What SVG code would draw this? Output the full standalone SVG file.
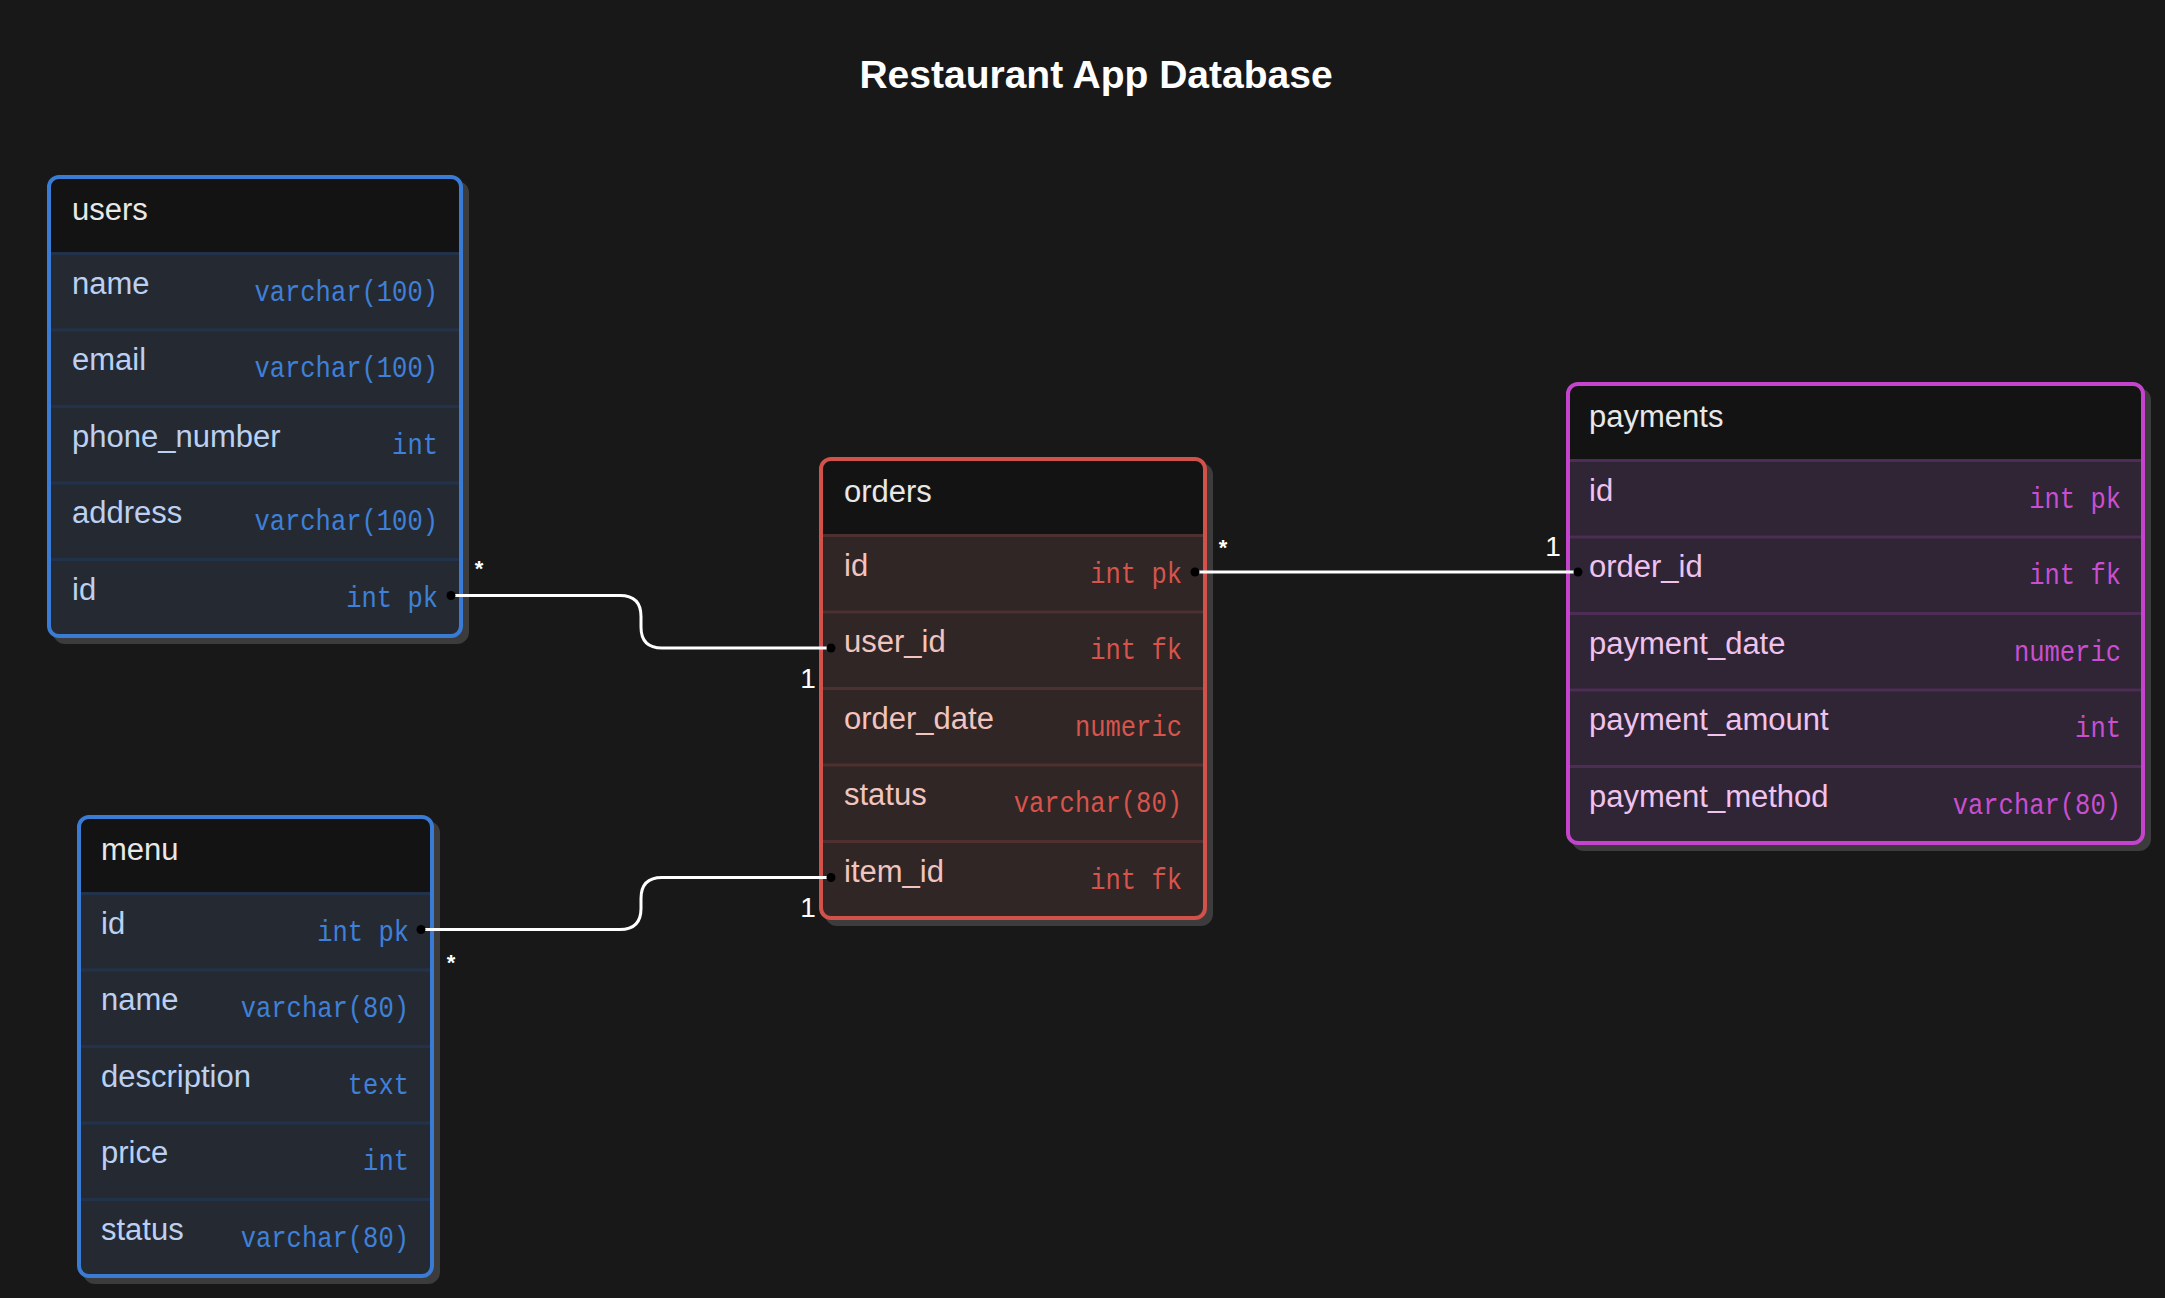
<svg xmlns="http://www.w3.org/2000/svg" width="2165" height="1298" viewBox="0 0 2165 1298">
<style>
.title{font-family:"Liberation Sans",Arial,sans-serif;font-size:39px;font-weight:bold;fill:#ffffff}
.hdr{font-family:"Liberation Sans",Arial,sans-serif;font-size:31px;fill:#e8e8e8}
.lbl{font-family:"Liberation Sans",Arial,sans-serif;font-size:31px}
.typ{font-family:"Liberation Mono","Courier New",monospace;font-size:30px;text-anchor:end}
.shadow{fill:#3c3c3c;stroke:#3c3c3c;stroke-width:4}
.headfill{fill:#131313}
.frame{fill:none;stroke-width:4}
.sep{stroke-width:3}
.blue .body{fill:#252a32}.blue .sep{stroke:#22324a}.blue .frame{stroke:#3a7bd5}.blue .lbl{fill:#bcd0f2}.blue .typ{fill:#3f80d8}
.red .body{fill:#302625}.red .sep{stroke:#4d302f}.red .frame{stroke:#d2514a}.red .lbl{fill:#f1c4bf}.red .typ{fill:#d6544c}
.pink .body{fill:#2f2535}.pink .sep{stroke:#4d2c55}.pink .frame{stroke:#c544cd}.pink .lbl{fill:#efc3ee}.pink .typ{fill:#c94fd0}
.wire{fill:none;stroke:#ffffff;stroke-width:3}
.dot{fill:#000000}
.card{font-family:"Liberation Sans",Arial,sans-serif;fill:#ffffff;text-anchor:middle}
.star{font-size:22px;font-weight:bold}
.one{font-size:28px}
</style>
<rect x="0" y="0" width="2165" height="1298" fill="#181818"/>
<text class="title" x="1096" y="88" text-anchor="middle">Restaurant App Database</text>

<g id="users" class="blue">
  <rect class="shadow" x="55" y="183" width="412" height="459" rx="10"/>
  <rect class="body" x="49" y="177" width="412" height="459" rx="10"/>
  <path class="headfill" d="M49,253.5 V187 Q49,177 59,177 H451 Q461,177 461,187 V253.5 Z"/>
  <line class="sep" x1="49" y1="253.5" x2="461" y2="253.5"/>
  <line class="sep" x1="49" y1="330" x2="461" y2="330"/>
  <line class="sep" x1="49" y1="406.5" x2="461" y2="406.5"/>
  <line class="sep" x1="49" y1="483" x2="461" y2="483"/>
  <line class="sep" x1="49" y1="559.5" x2="461" y2="559.5"/>
  <rect class="frame" x="49" y="177" width="412" height="459" rx="10"/>
  <text class="hdr" x="72" y="220">users</text>
  <text class="lbl" x="72" y="293.5">name</text>
  <text class="typ" x="438" y="300.5" textLength="183.6" lengthAdjust="spacingAndGlyphs">varchar(100)</text>
  <text class="lbl" x="72" y="370">email</text>
  <text class="typ" x="438" y="377" textLength="183.6" lengthAdjust="spacingAndGlyphs">varchar(100)</text>
  <text class="lbl" x="72" y="446.5">phone_number</text>
  <text class="typ" x="438" y="453.5" textLength="45.9" lengthAdjust="spacingAndGlyphs">int</text>
  <text class="lbl" x="72" y="523">address</text>
  <text class="typ" x="438" y="530" textLength="183.6" lengthAdjust="spacingAndGlyphs">varchar(100)</text>
  <text class="lbl" x="72" y="599.5">id</text>
  <text class="typ" x="438" y="606.5" textLength="91.8" lengthAdjust="spacingAndGlyphs">int pk</text>
</g>

<g id="menu" class="blue">
  <rect class="shadow" x="85" y="823" width="353" height="459" rx="10"/>
  <rect class="body" x="79" y="817" width="353" height="459" rx="10"/>
  <path class="headfill" d="M79,893.5 V827 Q79,817 89,817 H422 Q432,817 432,827 V893.5 Z"/>
  <line class="sep" x1="79" y1="893.5" x2="432" y2="893.5"/>
  <line class="sep" x1="79" y1="970" x2="432" y2="970"/>
  <line class="sep" x1="79" y1="1046.5" x2="432" y2="1046.5"/>
  <line class="sep" x1="79" y1="1123" x2="432" y2="1123"/>
  <line class="sep" x1="79" y1="1199.5" x2="432" y2="1199.5"/>
  <rect class="frame" x="79" y="817" width="353" height="459" rx="10"/>
  <text class="hdr" x="101" y="860">menu</text>
  <text class="lbl" x="101" y="933.5">id</text>
  <text class="typ" x="409" y="940.5" textLength="91.8" lengthAdjust="spacingAndGlyphs">int pk</text>
  <text class="lbl" x="101" y="1010">name</text>
  <text class="typ" x="409" y="1017" textLength="168.3" lengthAdjust="spacingAndGlyphs">varchar(80)</text>
  <text class="lbl" x="101" y="1086.5">description</text>
  <text class="typ" x="409" y="1093.5" textLength="61.2" lengthAdjust="spacingAndGlyphs">text</text>
  <text class="lbl" x="101" y="1163">price</text>
  <text class="typ" x="409" y="1170" textLength="45.9" lengthAdjust="spacingAndGlyphs">int</text>
  <text class="lbl" x="101" y="1239.5">status</text>
  <text class="typ" x="409" y="1246.5" textLength="168.3" lengthAdjust="spacingAndGlyphs">varchar(80)</text>
</g>

<g id="orders" class="red">
  <rect class="shadow" x="827" y="465" width="384" height="459" rx="10"/>
  <rect class="body" x="821" y="459" width="384" height="459" rx="10"/>
  <path class="headfill" d="M821,535.5 V469 Q821,459 831,459 H1195 Q1205,459 1205,469 V535.5 Z"/>
  <line class="sep" x1="821" y1="535.5" x2="1205" y2="535.5"/>
  <line class="sep" x1="821" y1="612" x2="1205" y2="612"/>
  <line class="sep" x1="821" y1="688.5" x2="1205" y2="688.5"/>
  <line class="sep" x1="821" y1="765" x2="1205" y2="765"/>
  <line class="sep" x1="821" y1="841.5" x2="1205" y2="841.5"/>
  <rect class="frame" x="821" y="459" width="384" height="459" rx="10"/>
  <text class="hdr" x="844" y="502">orders</text>
  <text class="lbl" x="844" y="575.5">id</text>
  <text class="typ" x="1182" y="582.5" textLength="91.8" lengthAdjust="spacingAndGlyphs">int pk</text>
  <text class="lbl" x="844" y="652">user_id</text>
  <text class="typ" x="1182" y="659" textLength="91.8" lengthAdjust="spacingAndGlyphs">int fk</text>
  <text class="lbl" x="844" y="728.5">order_date</text>
  <text class="typ" x="1182" y="735.5" textLength="107.1" lengthAdjust="spacingAndGlyphs">numeric</text>
  <text class="lbl" x="844" y="805">status</text>
  <text class="typ" x="1182" y="812" textLength="168.3" lengthAdjust="spacingAndGlyphs">varchar(80)</text>
  <text class="lbl" x="844" y="881.5">item_id</text>
  <text class="typ" x="1182" y="888.5" textLength="91.8" lengthAdjust="spacingAndGlyphs">int fk</text>
</g>

<g id="payments" class="pink">
  <rect class="shadow" x="1574" y="390" width="575" height="459" rx="10"/>
  <rect class="body" x="1568" y="384" width="575" height="459" rx="10"/>
  <path class="headfill" d="M1568,460.5 V394 Q1568,384 1578,384 H2133 Q2143,384 2143,394 V460.5 Z"/>
  <line class="sep" x1="1568" y1="460.5" x2="2143" y2="460.5"/>
  <line class="sep" x1="1568" y1="537" x2="2143" y2="537"/>
  <line class="sep" x1="1568" y1="613.5" x2="2143" y2="613.5"/>
  <line class="sep" x1="1568" y1="690" x2="2143" y2="690"/>
  <line class="sep" x1="1568" y1="766.5" x2="2143" y2="766.5"/>
  <rect class="frame" x="1568" y="384" width="575" height="459" rx="10"/>
  <text class="hdr" x="1589" y="427">payments</text>
  <text class="lbl" x="1589" y="500.5">id</text>
  <text class="typ" x="2121" y="507.5" textLength="91.8" lengthAdjust="spacingAndGlyphs">int pk</text>
  <text class="lbl" x="1589" y="577">order_id</text>
  <text class="typ" x="2121" y="584" textLength="91.8" lengthAdjust="spacingAndGlyphs">int fk</text>
  <text class="lbl" x="1589" y="653.5">payment_date</text>
  <text class="typ" x="2121" y="660.5" textLength="107.1" lengthAdjust="spacingAndGlyphs">numeric</text>
  <text class="lbl" x="1589" y="730">payment_amount</text>
  <text class="typ" x="2121" y="737" textLength="45.9" lengthAdjust="spacingAndGlyphs">int</text>
  <text class="lbl" x="1589" y="806.5">payment_method</text>
  <text class="typ" x="2121" y="813.5" textLength="168.3" lengthAdjust="spacingAndGlyphs">varchar(80)</text>
</g>

<g id="connectors">
  <path class="wire" d="M451,595.5 H620 Q641,595.5 641,616.5 V627 Q641,648 662,648 H831"/>
  <path class="wire" d="M421,929.5 H620 Q641,929.5 641,908.5 V898.5 Q641,877.5 662,877.5 H831"/>
  <path class="wire" d="M1195,572 H1578"/>
  <circle class="dot" cx="451" cy="595.5" r="4.5"/>
  <circle class="dot" cx="831" cy="648" r="4.5"/>
  <circle class="dot" cx="421" cy="929.5" r="4.5"/>
  <circle class="dot" cx="831" cy="877.5" r="4.5"/>
  <circle class="dot" cx="1195" cy="572" r="4.5"/>
  <circle class="dot" cx="1578" cy="572" r="4.5"/>
  <text class="card star" x="479" y="576">*</text>
  <text class="card one" x="808" y="688">1</text>
  <text class="card star" x="451" y="970">*</text>
  <text class="card one" x="808" y="917">1</text>
  <text class="card star" x="1223" y="555">*</text>
  <text class="card one" x="1553" y="556">1</text>
</g>
</svg>
